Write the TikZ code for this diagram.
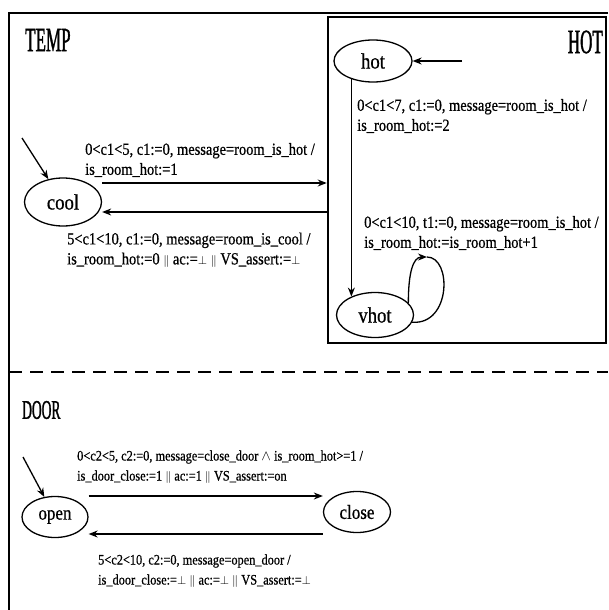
\documentclass[tikz,border=0pt]{standalone}
\usepackage{amsmath, amssymb}
\usepackage{fontspec}
\setmainfont{Liberation Serif}
\newfontfamily\lblfont[FakeStretch=0.85, FakeBold=0.6]{Liberation Serif}
\newfontfamily\statefont[FakeStretch=0.85, FakeBold=0.6]{Liberation Serif}
\newfontfamily\titlefont[FakeStretch=0.5, FakeBold=1]{Liberation Serif}
\newcommand{\orbar}{{\fontsize{12}{12}\selectfont$\|$}}
\newcommand{\falsum}{{\fontsize{13}{13}\selectfont$\bot$}}
\usepackage{tikz}
\usetikzlibrary{
  shapes.geometric,
  arrows.meta,
  positioning,
  calc
}
\tikzset{
  state/.style={
    ellipse, draw, line width=1.3pt, inner sep=0pt,
    minimum width=77pt, minimum height=44pt,
    font=\statefont\fontsize{22}{24}\selectfont
  },
  guard/.style={
    anchor=west, align=left, inner sep=0pt,
    font=\lblfont\fontsize{17}{20}\selectfont
  },
  title/.style={inner sep=0pt, font=\titlefont\fontsize{34}{36}\selectfont},
  arrow/.style={-{Stealth[length=9pt, width=7pt]}, line width=1.3pt},
  frame/.style={line width=2.4pt},
}

\begin{document}
\begin{tikzpicture}[x=1pt, y=-1pt,
  region/.style={draw, line width=2.6pt, inner sep=0pt},
  divider/.style={line width=2.4pt, dash pattern=on 13pt off 8pt},
  doorstate/.style={state, font=\statefont\fontsize{20}{22}\selectfont},
  doorguard/.style={guard, font=\lblfont\fontsize{14.5}{20}\selectfont},
]
\useasboundingbox (0,0) rectangle (608,610);

% Outer frame and divider
\draw[frame] (608,13) -- (9,13) -- (9,610);
\draw[divider] (9,372) -- (608,372);

% Regions
\node[title, anchor=west] (temp) at (25,40) {TEMP};
\node[region, minimum width=278pt, minimum height=326pt] (hotbox) at (467,180) {};
\node[title, anchor=east] (hotlbl) at (603,42) {HOT};
\node[title, anchor=west, font=\titlefont\fontsize{27}{29}\selectfont] (door) at (22,410) {DOOR};

% States
\node[state, minimum height=48pt] (cool) at (63,202) {cool};
\node[state, minimum width=78pt, minimum height=42pt] (hot) at (373,61) {hot};
\node[state, minimum height=45pt] (vhot) at (375,315) {vhot};
\node[doorstate, minimum width=66pt, minimum height=41pt] (open) at (55,517) {open};
\node[doorstate, minimum width=67pt, minimum height=41pt] (close) at (357,512) {close};

% Initial arrows
\coordinate (coolinit) at (22,138);
\coordinate (hotinit) at (462,61);
\coordinate (openinit) at (23,457);
\draw[arrow] (coolinit) -- (cool);
\draw[arrow] (hotinit) -- (hot);
\draw[arrow] (openinit) -- (open);

% TEMP transitions
\draw[arrow] ([yshift=19pt]cool.east) -- ([yshift=19pt]cool.east -| hotbox.west);
\draw[arrow] ([yshift=-10pt]cool.east -| hotbox.west) -- ([yshift=-10pt]cool.east);
\node[guard] (t1) at (85,160) {0<c1<5, c1:=0, message=room\_is\_hot /\\is\_room\_hot:=1};
\node[guard] (t2) at (67,250) {5<c1<10, c1:=0, message=room\_is\_cool /\\is\_room\_hot:=0 \orbar{} ac:=\falsum{} \orbar{} VS\_assert:=\falsum};

% HOT transitions
\draw[arrow] (hot.220) -- (hot.220 |- vhot.142);
\coordinate (looptop) at ([shift={(52pt,58pt)}]vhot.center);
\draw[arrow] (vhot.20) .. controls +(0pt,30pt) and +(-14pt,0pt) .. (looptop);
\draw[line width=1.3pt] (looptop) .. controls +(25pt,0pt) and +(39pt,-3pt) .. (vhot.-11);
\node[guard] (t3) at (357,116) {0<c1<7, c1:=0, message=room\_is\_hot /\\is\_room\_hot:=2};
\node[guard] (t4) at (364,233) {0<c1<10, t1:=0, message=room\_is\_hot /\\is\_room\_hot:=is\_room\_hot+1};

% DOOR transitions
\draw[arrow] ([yshift=21pt]open.east) -- ([yshift=21pt]open.east -| close.west);
\draw[arrow] ([yshift=-22pt]close.west) -- ([yshift=-22pt]close.west -| open.east);
\node[doorguard] (t5) at (77,467) {0<c2<5, c2:=0, message=close\_door $\wedge$ is\_room\_hot>=1 /\\is\_door\_close:=1 \orbar{} ac:=1 \orbar{} VS\_assert:=on};
\node[doorguard] (t6) at (98,571) {5<c2<10, c2:=0, message=open\_door /\\is\_door\_close:=\falsum{} \orbar{} ac:=\falsum{} \orbar{} VS\_assert:=\falsum};

\end{tikzpicture}
\end{document}
